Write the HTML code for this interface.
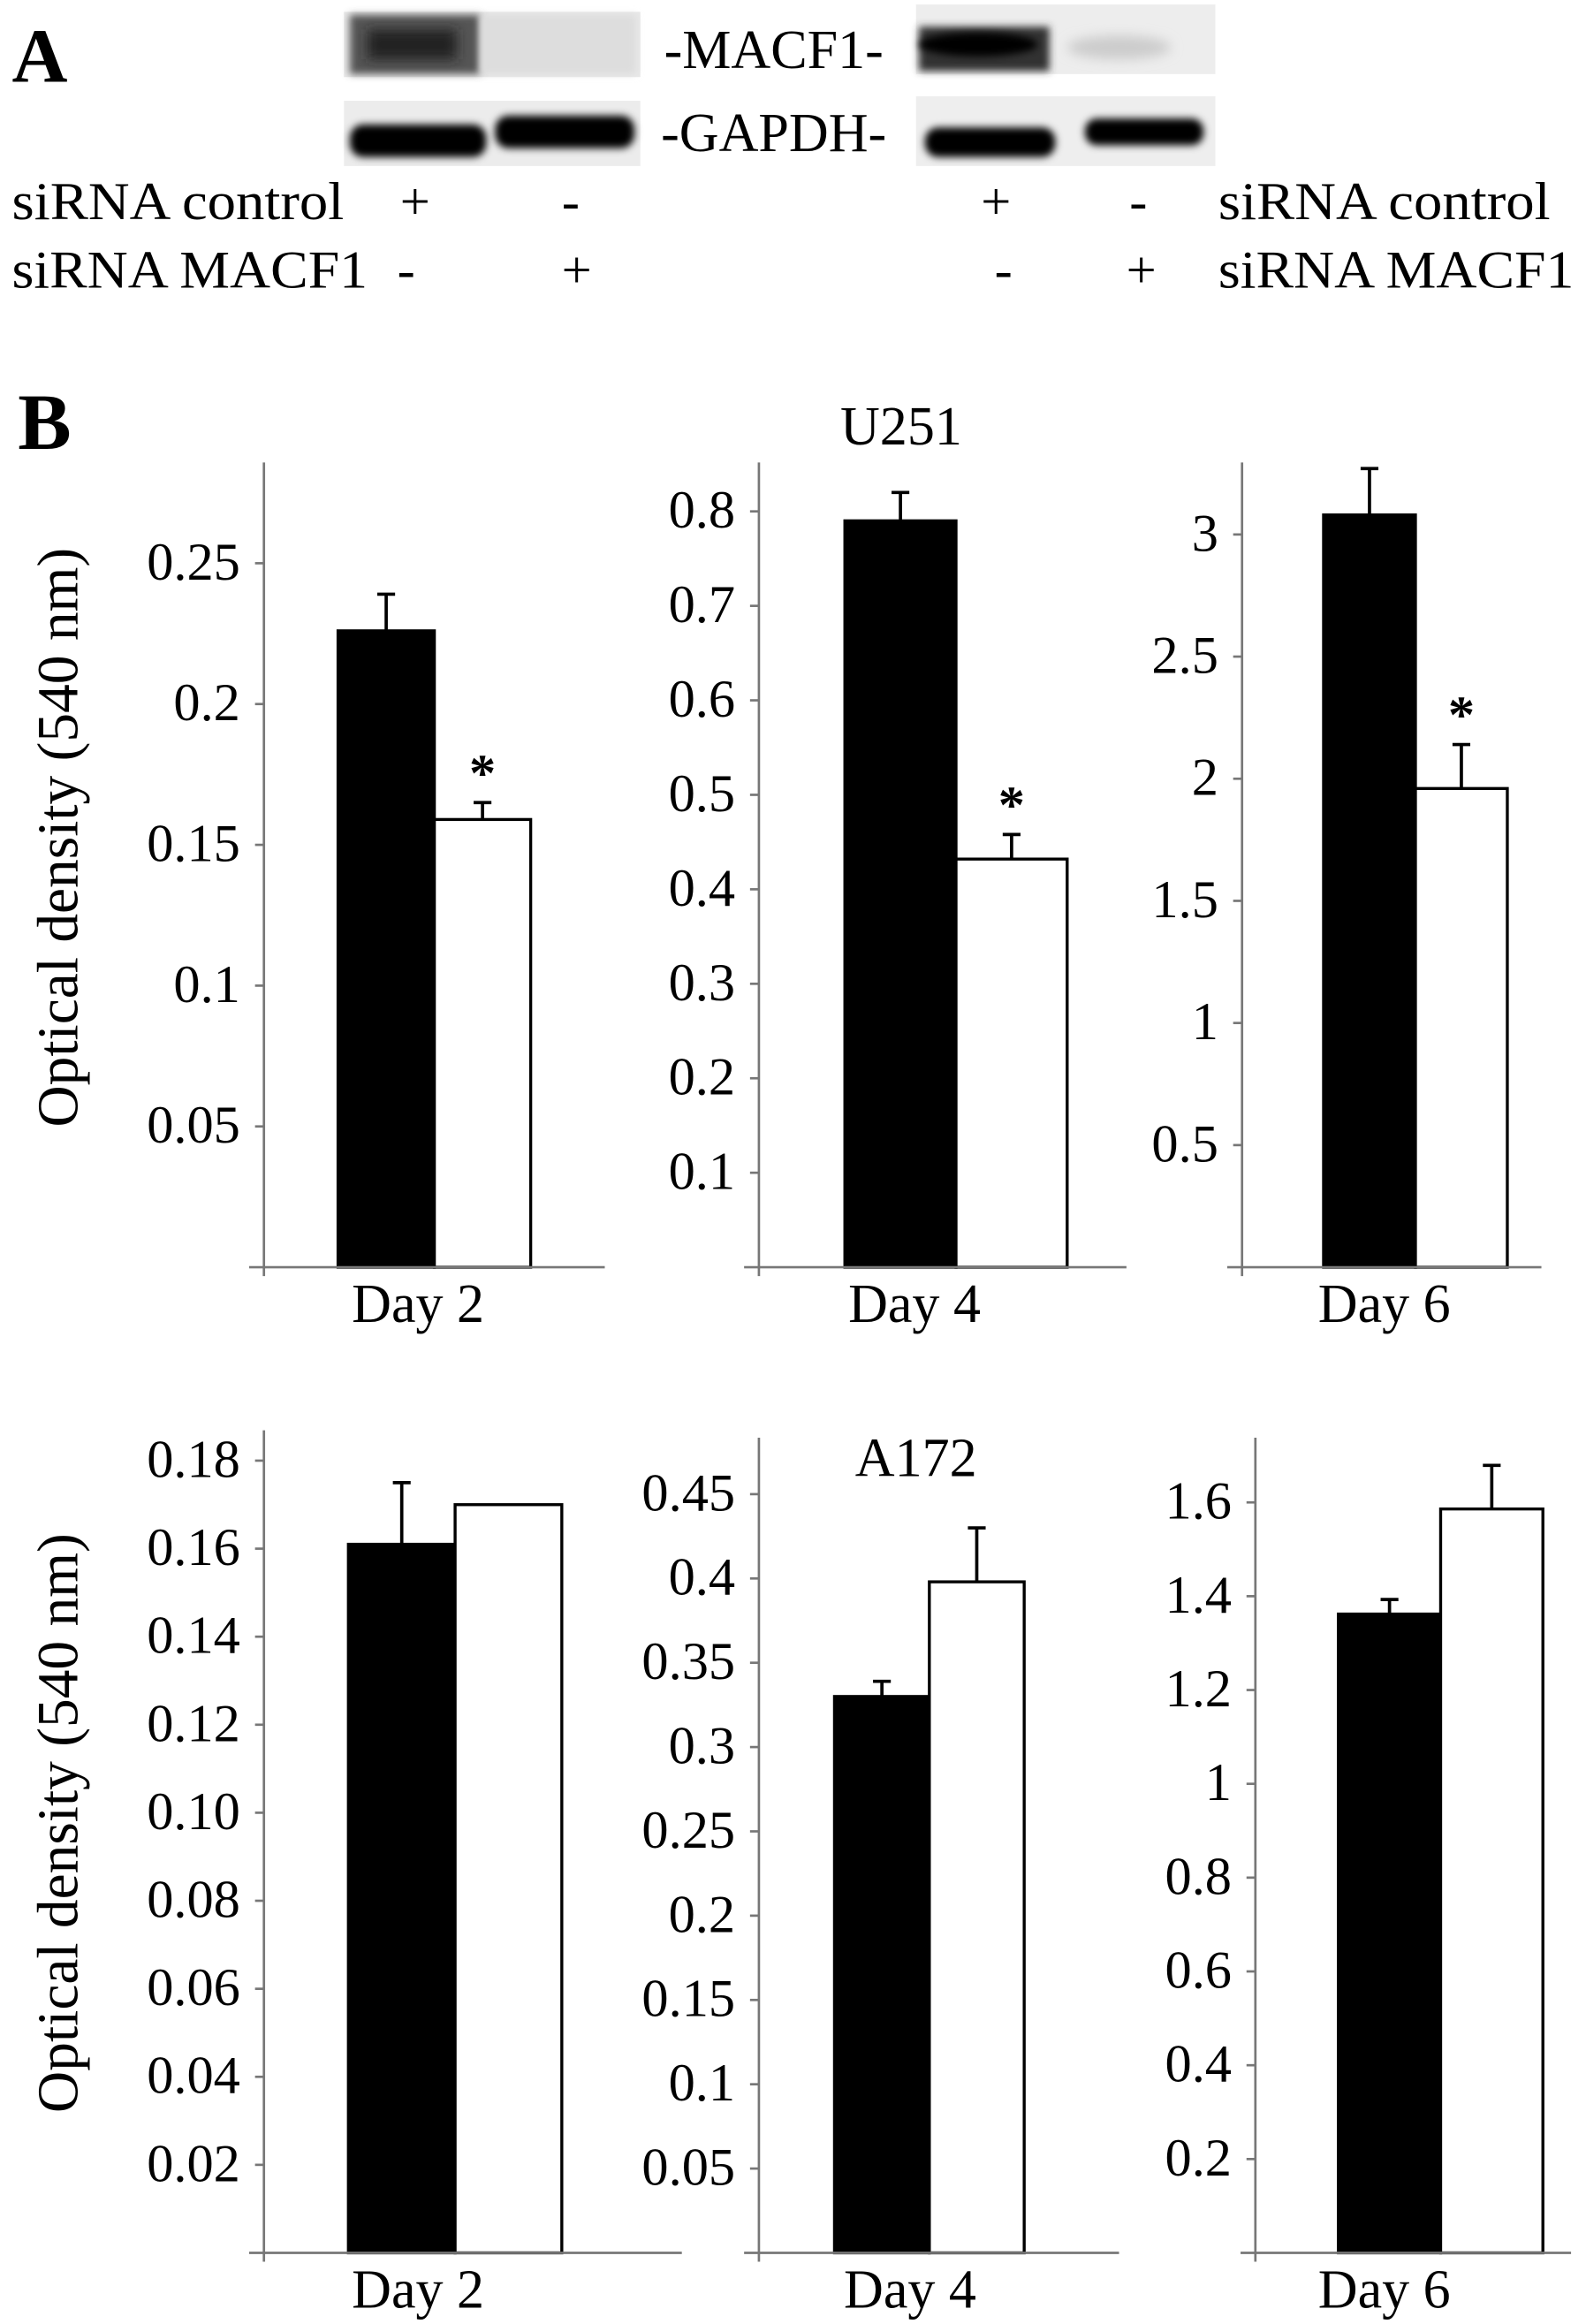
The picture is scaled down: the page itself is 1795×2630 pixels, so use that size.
<!DOCTYPE html>
<html><head><meta charset="utf-8"><title>MACF1 figure</title>
<style>
html,body{margin:0;padding:0;background:#fff;}
svg{display:block;}
text{font-family:"Liberation Serif",serif;fill:#000;}
</style></head>
<body>
<svg id="fig" xmlns="http://www.w3.org/2000/svg" width="1795" height="2630" viewBox="0 0 1070 1568">
<defs>
<filter id="blur3" x="-20%" y="-50%" width="140%" height="200%"><feGaussianBlur stdDeviation="4"/></filter>
<filter id="blur2" x="-20%" y="-50%" width="140%" height="200%"><feGaussianBlur stdDeviation="2.5"/></filter>
</defs>
<rect width="1070" height="1568" fill="#fff"/>
<g>
<text x="8" y="55" font-size="52" font-weight="bold">A</text>
<g>
<rect x="232" y="8" width="200" height="44" fill="#e8e8e8"/>
<rect x="236" y="10" width="88" height="40" fill="#555" filter="url(#blur2)"/>
<rect x="248" y="20" width="60" height="20" fill="#222" filter="url(#blur3)"/>
<rect x="324" y="10" width="105" height="40" fill="#ddd" filter="url(#blur2)"/>
</g>
<g>
<rect x="232" y="68" width="200" height="44" fill="#ececec"/>
<rect x="236" y="84" width="92" height="22" rx="9" fill="#000" filter="url(#blur2)"/>
<rect x="334" y="78" width="94" height="22" rx="9" fill="#000" filter="url(#blur2)"/>
</g>
<g>
<rect x="618" y="3" width="202" height="47" fill="#ededed"/>
<rect x="620" y="18" width="88" height="30" fill="#333" filter="url(#blur2)"/>
<ellipse cx="660" cy="30" rx="40" ry="8" fill="#000" filter="url(#blur2)"/>
<ellipse cx="755" cy="32" rx="35" ry="8" fill="#ccc" filter="url(#blur3)"/>
</g>
<g>
<rect x="618" y="65" width="202" height="47" fill="#eeeeee"/>
<rect x="624" y="86" width="88" height="20" rx="9" fill="#000" filter="url(#blur2)"/>
<rect x="732" y="80" width="80" height="18" rx="8" fill="#000" filter="url(#blur2)"/>
</g>
<text x="522" y="46" font-size="37" text-anchor="middle">-MACF1-</text>
<text x="522" y="102" font-size="37" text-anchor="middle">-GAPDH-</text>
<text x="8" y="148" font-size="36" textLength="224" lengthAdjust="spacingAndGlyphs">siRNA control</text>
<text x="8" y="194" font-size="36" textLength="240" lengthAdjust="spacingAndGlyphs">siRNA MACF1</text>
<text x="822" y="148" font-size="36" textLength="224" lengthAdjust="spacingAndGlyphs">siRNA control</text>
<text x="822" y="194" font-size="36" textLength="240" lengthAdjust="spacingAndGlyphs">siRNA MACF1</text>
<g font-size="36" text-anchor="middle">
<text x="280" y="148">+</text>
<text x="385" y="148">-</text>
<text x="274" y="194">-</text>
<text x="389" y="194">+</text>
<text x="672" y="148">+</text>
<text x="768" y="148">-</text>
<text x="677" y="194">-</text>
<text x="770" y="194">+</text>
</g>
</g>
<text x="12" y="303" font-size="54" font-weight="bold">B</text>
<text x="608" y="300" font-size="37" text-anchor="middle">U251</text>
<text x="618" y="996" font-size="37" text-anchor="middle">A172</text>
<text transform="translate(52,565) rotate(-90)" font-size="39" text-anchor="middle">Optical density (540 nm)</text>
<text transform="translate(52,1230) rotate(-90)" font-size="39" text-anchor="middle">Optical density (540 nm)</text>
<g id="charts"></g>
</svg>
<script>
const days = ["Day 2", "Day 4", "Day 6"];
const u251Control = [0.226, 0.79, 3.08];
const u251ControlErr = [0.013, 0.03, 0.19];
const u251Sirna = [0.159, 0.432, 1.96];
const u251SirnaErr = [0.006, 0.026, 0.18];
const u251Sig = [true, true, true];
const a172Control = [0.161, 0.330, 1.362];
const a172ControlErr = [0.014, 0.009, 0.031];
const a172Sirna = [0.170, 0.398, 1.586];
const a172SirnaErr = [0.0, 0.032, 0.093];
const a172Sig = [false, false, false];
const ticksU251Day2 = [0.05, 0.1, 0.15, 0.2, 0.25];
const tickLabelsU251Day2 = ["0.05", "0.1", "0.15", "0.2", "0.25"];
const ticksU251Day4 = [0.1, 0.2, 0.3, 0.4, 0.5, 0.6, 0.7, 0.8];
const tickLabelsU251Day4 = ["0.1", "0.2", "0.3", "0.4", "0.5", "0.6", "0.7", "0.8"];
const ticksU251Day6 = [0.5, 1, 1.5, 2, 2.5, 3];
const tickLabelsU251Day6 = ["0.5", "1", "1.5", "2", "2.5", "3"];
const ticksA172Day2 = [0.02, 0.04, 0.06, 0.08, 0.10, 0.12, 0.14, 0.16, 0.18];
const tickLabelsA172Day2 = ["0.02", "0.04", "0.06", "0.08", "0.10", "0.12", "0.14", "0.16", "0.18"];
const ticksA172Day4 = [0.05, 0.1, 0.15, 0.2, 0.25, 0.3, 0.35, 0.4, 0.45];
const tickLabelsA172Day4 = ["0.05", "0.1", "0.15", "0.2", "0.25", "0.3", "0.35", "0.4", "0.45"];
const ticksA172Day6 = [0.2, 0.4, 0.6, 0.8, 1, 1.2, 1.4, 1.6];
const tickLabelsA172Day6 = ["0.2", "0.4", "0.6", "0.8", "1", "1.2", "1.4", "1.6"];

const NS = "http://www.w3.org/2000/svg";
const root = document.getElementById("charts");
function mk(tag, attrs, parent) {
  const e = document.createElementNS(NS, tag);
  for (const k in attrs) e.setAttribute(k, attrs[k]);
  parent.appendChild(e);
  return e;
}
const layouts = [
  {ax:178, base:855, top:312, xEnd:408, dMax:0.2858, b0:228, bw:65, dayX:282},
  {ax:512, base:855, top:312, xEnd:760, dMax:0.8518, b0:570, bw:75, dayX:617},
  {ax:838, base:855, top:312, xEnd:1040, dMax:3.295, b0:893, bw:62, dayX:934},
  {ax:178, base:1520, top:965, xEnd:460, dMax:0.1869, b0:235, bw:72, dayX:282},
  {ax:512, base:1520, top:970, xEnd:755, dMax:0.4835, b0:563, bw:64, dayX:614},
  {ax:847, base:1520, top:970, xEnd:1060, dMax:1.738, b0:903, bw:69, dayX:934}
];
const groups = [
  {name:"u251", ctrl:u251Control, ctrlErr:u251ControlErr, si:u251Sirna, siErr:u251SirnaErr, sig:u251Sig,
   ticks:[ticksU251Day2, ticksU251Day4, ticksU251Day6], labels:[tickLabelsU251Day2, tickLabelsU251Day4, tickLabelsU251Day6]},
  {name:"a172", ctrl:a172Control, ctrlErr:a172ControlErr, si:a172Sirna, siErr:a172SirnaErr, sig:a172Sig,
   ticks:[ticksA172Day2, ticksA172Day4, ticksA172Day6], labels:[tickLabelsA172Day2, tickLabelsA172Day4, tickLabelsA172Day6]}
];
groups.forEach((g, gi) => {
  days.forEach((day, di) => {
    const L = layouts[gi * 3 + di];
    const y = v => L.base - v / L.dMax * (L.base - L.top);
    const cg = mk("g", {}, root);
    
    
    const vals = [g.ctrl[di], g.si[di]];
    const errs = [g.ctrlErr[di], g.siErr[di]];
    vals.forEach((v, bi) => {
      const x = L.b0 + bi * L.bw;
      const r = mk("rect", {x:x, y:y(v), width:L.bw, height:L.base - y(v),
        fill: bi === 0 ? "#000" : "#fff", stroke:"#000", "stroke-width":2}, cg);
      
      
      if (errs[bi] > 0) {
        const cx = x + L.bw / 2;
        const eb = mk("path", {d:`M${cx},${y(v)} V${y(v + errs[bi])} M${cx-6},${y(v + errs[bi])} H${cx+6}`,
          stroke:"#000", "stroke-width":2.2, fill:"none"}, cg);
        
        
      }
      if (bi === 1 && g.sig[di]) {
        const st = mk("text", {x:x + L.bw / 2, y:y(v + errs[bi]) - 8, "font-size":36, "font-weight":"bold",
          "text-anchor":"middle", "font-family":"Liberation Sans, sans-serif"}, cg);
        st.textContent = "*";
        
        
      }
    });
    const ya = mk("line", {x1:L.ax, y1:L.top, x2:L.ax, y2:L.base + 6, stroke:"#777", "stroke-width":1.6}, cg);
    
    
    const xa = mk("line", {x1:L.ax - 10, y1:L.base, x2:L.xEnd, y2:L.base, stroke:"#777", "stroke-width":1.6}, cg);
    
    
    g.ticks[di].forEach((t, ti) => {
      const ty = y(t);
      const tk = mk("line", {x1:L.ax - 6, y1:ty, x2:L.ax, y2:ty, stroke:"#777", "stroke-width":1.6}, cg);
      
      
      const tl = mk("text", {x:L.ax - 16, y:ty + 11, "font-size":36, "text-anchor":"end"}, cg);
      tl.textContent = g.labels[di][ti];
      
      
    });
    const dl = mk("text", {x:L.dayX, y:L.base + 37, "font-size":37, "text-anchor":"middle"}, cg);
    dl.textContent = day;
    
    
  });
});
</script>
</body></html>
